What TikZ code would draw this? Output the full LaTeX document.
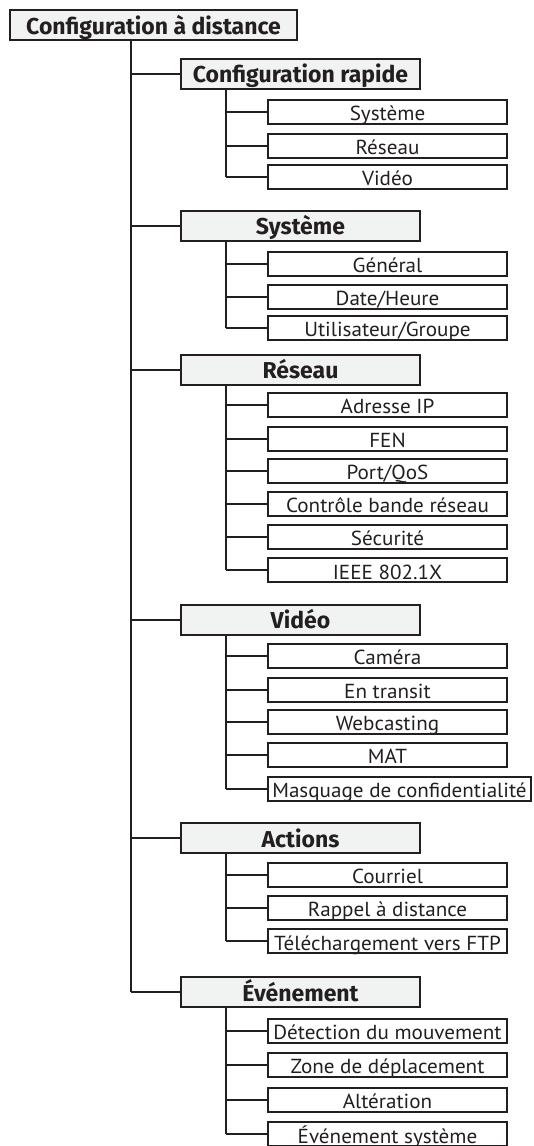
\documentclass[tikz,border=0pt]{standalone}
\usepackage{fontspec}
\setmainfont{PT Sans}
\newfontfamily\leaffont[FakeStretch=1.04]{PT Sans}
\newfontfamily\headfont{Fira Sans}
\definecolor{ln}{HTML}{231F20}
\definecolor{hd}{HTML}{F1F2F2}
\begin{document}
\begin{tikzpicture}[x=1pt,y=-1pt,
  every node/.style={inner sep=0pt,outer sep=0pt,text=ln},
  conn/.style={draw=ln,line width=2pt},
  rootbox/.style={draw=ln,line width=2pt,fill=hd,minimum width=287pt,minimum height=30pt,font=\headfont\fontsize{23}{25}\selectfont\bfseries,text height=18pt,text depth=0pt},
  headbox/.style={draw=ln,line width=2pt,fill=hd,minimum width=239pt,minimum height=30pt,font=\headfont\fontsize{23}{25}\selectfont\bfseries,text height=18pt,text depth=0pt},
  leafbox/.style={draw=ln,line width=2pt,fill=white,minimum width=239pt,minimum height=24pt,font=\leaffont\fontsize{20.3}{22}\selectfont,text height=18pt,text depth=0pt},
]
\useasboundingbox (0,0) rectangle (533,1146);
\coordinate (ma) at (131,0);
\coordinate (mb) at (226,0);

\node[rootbox] (root) at (153.5,25) {Configuration à distance};

\node[headbox] (h1) at (300.5,73.5) {Configuration rapide};
\node[headbox] (h2) at (300.5,225.5) {Système};
\node[headbox] (h3) at (300.5,369.5) {Réseau};
\node[headbox] (h4) at (300.5,619.5) {Vidéo};
\node[headbox] (h5) at (300.5,838) {Actions};
\node[headbox] (h6) at (300.5,992) {Événement};

\node[leafbox] (a1) at (387.5,111.5) {Système};
\node[leafbox] (a2) at (387.5,145.5) {Réseau};
\node[leafbox] (a3) at (387.5,176.5) {Vidéo};

\node[leafbox] (b1) at (387.5,263.5) {Général};
\node[leafbox] (b2) at (387.5,296.5) {Date/Heure};
\node[leafbox] (b3) at (387.5,327.5) {Utilisateur/Groupe};

\node[leafbox] (c1) at (387.5,404.5) {Adresse IP};
\node[leafbox] (c2) at (387.5,438.5) {FEN};
\node[leafbox] (c3) at (387.5,470.5) {Port/QoS};
\node[leafbox] (c4) at (387.5,503.5) {Contrôle bande réseau};
\node[leafbox] (c5) at (387.5,536.5) {Sécurité};
\node[leafbox] (c6) at (387.5,570) {IEEE 802.1X};

\node[leafbox] (d1) at (387.5,655.5) {Caméra};
\node[leafbox] (d2) at (387.5,689.5) {En transit};
\node[leafbox] (d3) at (387.5,721.5) {Webcasting};
\node[leafbox] (d4) at (387.5,754.5) {MAT};
\node[leafbox,minimum width=263pt] (d5) at (399.5,788.5) {Masquage de confidentialité};

\node[leafbox] (e1) at (387.5,874.5) {Courriel};
\node[leafbox] (e2) at (387.5,907.5) {Rappel à distance};
\node[leafbox] (e3) at (387.5,941) {Téléchargement vers FTP};

\node[leafbox] (f1) at (387.5,1030.5) {Détection du mouvement};
\node[leafbox] (f2) at (387.5,1064.5) {Zone de déplacement};
\node[leafbox] (f3) at (387.5,1099.5) {Altération};
\node[leafbox] (f4) at (387.5,1134) {Événement système};

% main trunk
\draw[conn] (ma |- root.south) -- (ma |- h6.west);
\foreach \h in {h1,h2,h3,h4,h5,h6} \draw[conn] (ma |- \h.west) -- (\h.west);

% sub trunks
\draw[conn] (mb |- h1.south) -- (mb |- a3.west);
\foreach \l in {a1,a2,a3} \draw[conn] (mb |- \l.west) -- (\l.west);
\draw[conn] (mb |- h2.south) -- (mb |- b3.west);
\foreach \l in {b1,b2,b3} \draw[conn] (mb |- \l.west) -- (\l.west);
\draw[conn] (mb |- h3.south) -- (mb |- c6.west);
\foreach \l in {c1,c2,c3,c4,c5,c6} \draw[conn] (mb |- \l.west) -- (\l.west);
\draw[conn] (mb |- h4.south) -- (mb |- d5.west);
\foreach \l in {d1,d2,d3,d4,d5} \draw[conn] (mb |- \l.west) -- (\l.west);
\draw[conn] (mb |- h5.south) -- (mb |- e3.west);
\foreach \l in {e1,e2,e3} \draw[conn] (mb |- \l.west) -- (\l.west);
\draw[conn] (mb |- h6.south) -- (mb |- f4.west);
\foreach \l in {f1,f2,f3,f4} \draw[conn] (mb |- \l.west) -- (\l.west);
\end{tikzpicture}
\end{document}
